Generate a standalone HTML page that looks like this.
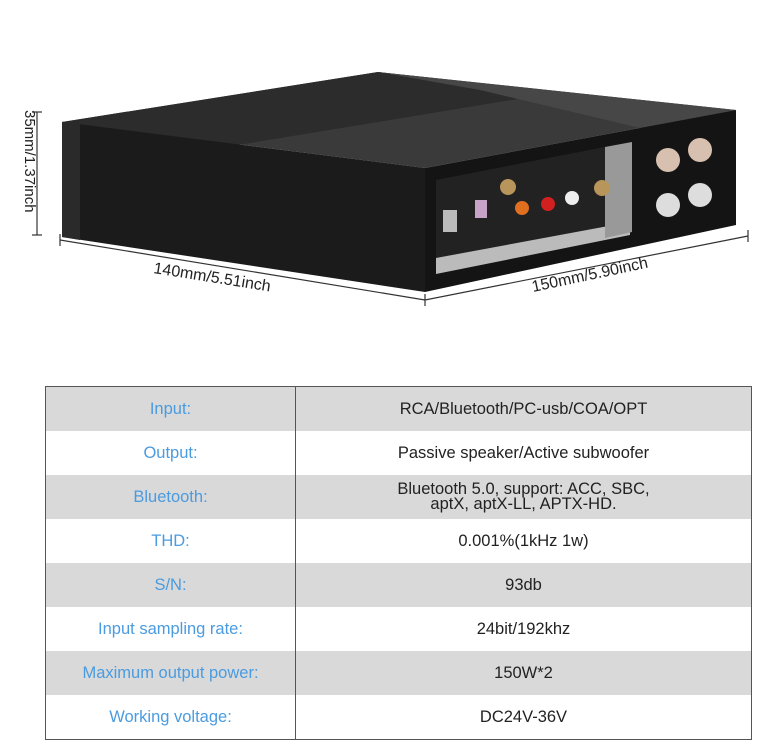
<!DOCTYPE html>
<html><head><style>
body{margin:0;width:773px;height:752px;background:#fff;overflow:hidden;font-family:"Liberation Sans",sans-serif;position:relative}
table{position:absolute;left:45px;top:386px;width:707px;border-collapse:collapse;border:1.5px solid #555}
td{height:44px;padding:0;text-align:center;font-size:16.5px;line-height:15px}
td.k{width:249px;color:#4a9be0;border-right:1.5px solid #555}
td.v{color:#222}
tr.g td{background:#d9d9d9}
</style></head><body>
<svg width="773" height="340" style="position:absolute;left:0;top:0">
<polygon points="62,122 378,72 736,110 425,168" fill="#3a3a3a"/>
<polygon points="62,122 378,72 560,92 220,148" fill="#2c2c2c"/>
<polygon points="378,72 736,110 640,128 480,90" fill="#474747"/>
<polygon points="62,122 425,168 425,292 62,237" fill="#1b1b1b"/>
<polygon points="62,122 80,120 80,240 62,237" fill="#2a2a2a"/>
<polygon points="425,168 736,110 736,225 425,292" fill="#141414"/>
<polygon points="436,180 630,142 630,235 436,274" fill="#222"/>
<polygon points="436,258 630,222 630,235 436,274" fill="#bbb"/>
<polygon points="605,147 632,142 632,232 605,238" fill="#999"/>
<rect x="443" y="210" width="14" height="22" fill="#bbb"/>
<rect x="475" y="200" width="12" height="18" fill="#c9a3c7"/>
<circle cx="508" cy="187" r="8" fill="#b8955a"/><circle cx="522" cy="208" r="7" fill="#e07020"/>
<circle cx="548" cy="204" r="7" fill="#d02020"/><circle cx="572" cy="198" r="7" fill="#eee"/>
<circle cx="602" cy="188" r="8" fill="#b8955a"/>
<circle cx="668" cy="160" r="12" fill="#d8c0b0"/><circle cx="700" cy="150" r="12" fill="#d8c0b0"/>
<circle cx="668" cy="205" r="12" fill="#ddd"/><circle cx="700" cy="195" r="12" fill="#ddd"/>
<g stroke="#333" stroke-width="1.2" fill="none">
<line x1="37" y1="112" x2="37" y2="235"/><line x1="32" y1="112" x2="42" y2="112"/><line x1="32" y1="235" x2="42" y2="235"/>
<line x1="60" y1="240" x2="425" y2="300"/><line x1="60" y1="234" x2="60" y2="246"/>
<line x1="425" y1="300" x2="748" y2="236"/><line x1="425" y1="294" x2="425" y2="306"/><line x1="748" y1="230" x2="748" y2="242"/>
</g>
<text x="0" y="0" transform="translate(25,110) rotate(90)" font-size="15" fill="#222" font-family="Liberation Sans">35mm/1.37inch</text>
<text x="0" y="0" transform="translate(153,273) rotate(9)" font-size="16" fill="#222" font-family="Liberation Sans">140mm/5.51inch</text>
<text x="0" y="0" transform="translate(533,292) rotate(-12)" font-size="16" fill="#222" font-family="Liberation Sans">150mm/5.90inch</text>
</svg>
<table>
<tr class="g"><td class="k">Input:</td><td class="v">RCA/Bluetooth/PC-usb/COA/OPT</td></tr>
<tr><td class="k">Output:</td><td class="v">Passive speaker/Active subwoofer</td></tr>
<tr class="g"><td class="k">Bluetooth:</td><td class="v">Bluetooth 5.0, support: ACC, SBC,<br>aptX, aptX-LL, APTX-HD.</td></tr>
<tr><td class="k">THD:</td><td class="v">0.001%(1kHz 1w)</td></tr>
<tr class="g"><td class="k">S/N:</td><td class="v">93db</td></tr>
<tr><td class="k">Input sampling rate:</td><td class="v">24bit/192khz</td></tr>
<tr class="g"><td class="k">Maximum output power:</td><td class="v">150W*2</td></tr>
<tr><td class="k">Working voltage:</td><td class="v">DC24V-36V</td></tr>
</table>
</body></html>
